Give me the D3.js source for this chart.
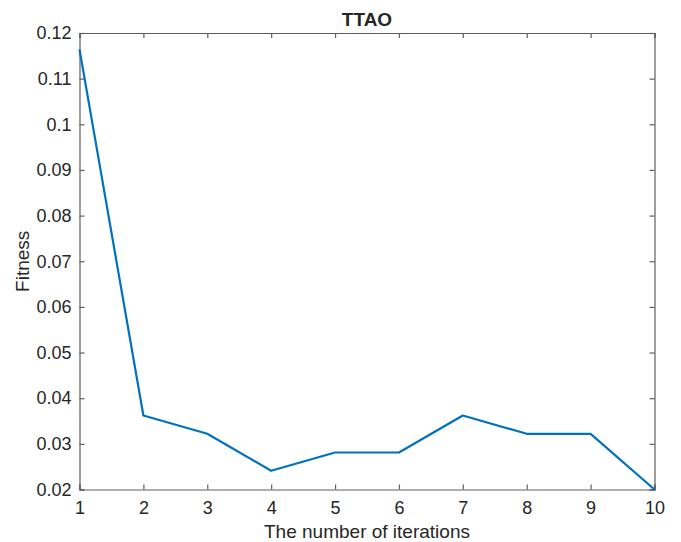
<!DOCTYPE html>
<html lang="en">
<head>
  <meta charset="UTF-8">
  <title>TTAO</title>
  <script src="https://d3js.org/d3.v7.min.js"></script>
  <style>
    body { margin: 0; background: #fff; }
    text { font-family: "Liberation Sans", Arial, sans-serif; fill: #262626; }
    .tick text { font-size: 18px; }
  </style>
</head>
<body>
  <div class="chart"></div>
  <script>
    // values
    const iterations = [1, 2, 3, 4, 5, 6, 7, 8, 9, 10]
    const fitness = [0.1164, 0.0362, 0.0322, 0.0241, 0.0281, 0.0281, 0.0362, 0.0322, 0.0322, 0.0200]
    const yTicks = [0.02, 0.03, 0.04, 0.05, 0.06, 0.07, 0.08, 0.09, 0.1, 0.11, 0.12]

    const W = 681, H = 542
    const margin = {top: 33, right: 26.5, bottom: 52.5, left: 79.5}
    const width = W - margin.left - margin.right
    const height = H - margin.top - margin.bottom

    const svg = d3.select(".chart").append("svg")
      .attr("width", W)
      .attr("height", H)

    const g = svg.append("g")
      .attr("transform", `translate(${margin.left},${margin.top})`)

    const x = d3.scaleLinear().domain([1, 10]).range([0, width])
    const y = d3.scaleLinear().domain([0.02, 0.12]).range([height, 0])

    const axisColor = "#5f5f5f"
    const fmt = d => d3.format("")(+d.toFixed(2))

    // bottom / left axes with labels, inward ticks
    const xAxis = g.append("g")
      .attr("transform", `translate(0,${height})`)
      .call(d3.axisBottom(x).tickValues(iterations).tickSize(-5).tickPadding(12).tickFormat(d3.format("d")))
    const yAxis = g.append("g")
      .call(d3.axisLeft(y).tickValues(yTicks).tickSize(-5).tickPadding(8).tickFormat(fmt))

    // top / right mirrored ticks
    const xTop = g.append("g")
      .call(d3.axisTop(x).tickValues(iterations).tickSize(-5).tickFormat(""))
    const yRight = g.append("g")
      .attr("transform", `translate(${width},0)`)
      .call(d3.axisRight(y).tickValues(yTicks).tickSize(-5).tickFormat(""))

    ;[xAxis, yAxis, xTop, yRight].forEach(a => {
      a.select(".domain").attr("stroke", axisColor).attr("stroke-width", 1.2)
      a.selectAll(".tick line").attr("stroke", axisColor).attr("stroke-width", 1.2)
      a.selectAll(".tick text").style("fill", "#262626")
    })

    const line = d3.line()
      .x((d, i) => x(iterations[i]))
      .y(d => y(d))

    g.append("path")
      .datum(fitness)
      .attr("fill", "none")
      .attr("stroke", "#0072BD")
      .attr("stroke-width", 2.2)
      .attr("stroke-linejoin", "round")
      .attr("d", line)

    svg.append("text")
      .attr("x", margin.left + width / 2)
      .attr("y", 26)
      .attr("text-anchor", "middle")
      .style("font-size", "19px")
      .style("font-weight", "bold")
      .text("TTAO")

    svg.append("text")
      .attr("x", margin.left + width / 2)
      .attr("y", 538)
      .attr("text-anchor", "middle")
      .style("font-size", "19px")
      .text("The number of iterations")

    svg.append("text")
      .attr("transform", `translate(29,${margin.top + height / 2}) rotate(-90)`)
      .attr("text-anchor", "middle")
      .style("font-size", "19px")
      .text("Fitness")
  </script>
</body>
</html>
